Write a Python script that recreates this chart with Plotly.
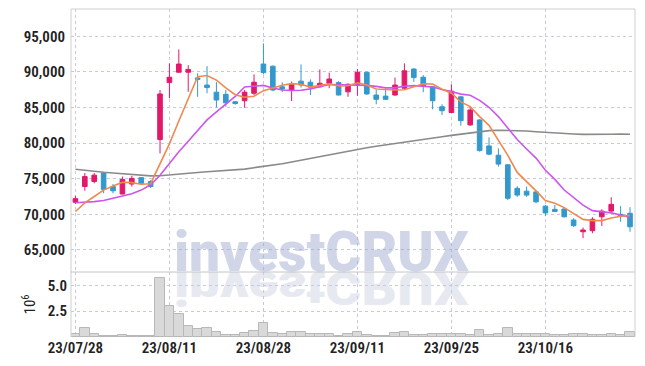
import base64
import plotly.graph_objects as go
from plotly.subplots import make_subplots

# ---------------- data ----------------
dates = [
    "2023-07-28", "2023-07-31", "2023-08-01", "2023-08-02", "2023-08-03", "2023-08-04",
    "2023-08-07", "2023-08-08", "2023-08-09", "2023-08-10", "2023-08-11",
    "2023-08-14", "2023-08-16", "2023-08-17", "2023-08-18",
    "2023-08-21", "2023-08-22", "2023-08-23", "2023-08-24", "2023-08-25",
    "2023-08-28", "2023-08-29", "2023-08-30", "2023-08-31", "2023-09-01",
    "2023-09-04", "2023-09-05", "2023-09-06", "2023-09-07", "2023-09-08",
    "2023-09-11", "2023-09-12", "2023-09-13", "2023-09-14", "2023-09-15",
    "2023-09-18", "2023-09-19", "2023-09-20", "2023-09-21", "2023-09-22",
    "2023-09-25", "2023-09-26", "2023-09-27",
    "2023-10-04", "2023-10-05", "2023-10-06",
    "2023-10-10", "2023-10-11", "2023-10-12", "2023-10-13",
    "2023-10-16", "2023-10-17", "2023-10-18", "2023-10-19", "2023-10-20",
    "2023-10-23", "2023-10-24", "2023-10-25", "2023-10-26", "2023-10-27",
]

open_ = [71700, 73900, 74600, 75800, 73900, 72850, 74250, 75150, 74600, 80500,
         88500, 89950, 89950, 89150, 88150, 87150, 86850, 85800, 85950, 87000,
         91100, 90800, 87900, 87450, 88700, 88550, 87900, 88400, 88500, 87200,
         88250, 89950, 86750, 86600, 86750, 87700, 90400, 89250, 87900, 85100,
         84300, 86500, 82550, 83250, 79600, 78300, 76950, 73650, 73250, 73150,
         71150, 70700, 70750, 69200, 67550, 67700, 69650, 70450, 70000, 70150]
high = [72600, 75800, 75800, 75800, 74250, 75300, 75400, 75200, 74800, 87450,
        91200, 93150, 90950, 89800, 90800, 88550, 87450, 85900, 87450, 89650,
        94000, 90900, 88550, 88650, 91050, 88950, 90350, 89900, 88700, 88400,
        90400, 90000, 87450, 87700, 89200, 91200, 90500, 89550, 88000, 85450,
        88250, 86550, 85050, 83350, 80800, 79250, 77050, 73950, 73900, 73400,
        71300, 71300, 70800, 69450, 68150, 69600, 70700, 72400, 71150, 71000]
low = [71450, 73300, 74350, 72950, 72950, 72800, 73900, 74200, 73700, 78550,
       86300, 89900, 87200, 86500, 87000, 85000, 85100, 85400, 84950, 86750,
       89650, 87300, 87150, 85900, 87800, 86750, 87850, 87700, 86700, 86500,
       86650, 86750, 85450, 86050, 86650, 87550, 88600, 87150, 84750, 83950,
       84250, 82450, 82450, 78800, 78300, 76700, 72000, 72450, 72450, 71550,
       69750, 70350, 69550, 68250, 66650, 67350, 68350, 70350, 68950, 67550]
close = [72200, 75300, 75500, 73500, 73300, 74900, 75050, 74350, 73900, 86900,
         89250, 91100, 90350, 88950, 87800, 86050, 85650, 85550, 87150, 88550,
         89900, 87450, 87600, 88250, 88150, 87850, 88400, 89000, 86750, 88250,
         89950, 86900, 86150, 86150, 88150, 90150, 89200, 88000, 85950, 84550,
         87300, 83150, 84650, 78950, 78450, 77050, 72250, 72700, 72700, 71750,
         70200, 70400, 69650, 68400, 67800, 69300, 70450, 71400, 69750, 68250]

volume_m = [0.25, 0.85, 0.25, 0.13, 0.06, 0.23, 0.13, 0.05, 0.05, 5.70,
            2.96, 2.20, 1.10, 0.78, 0.83, 0.52, 0.24, 0.24, 0.42, 0.62,
            1.32, 0.40, 0.30, 0.53, 0.45, 0.25, 0.25, 0.25, 0.12, 0.25,
            0.44, 0.20, 0.12, 0.12, 0.35, 0.44, 0.18, 0.16, 0.33, 0.28,
            0.33, 0.33, 0.16, 0.63, 0.16, 0.26, 0.84, 0.33, 0.33, 0.26,
            0.33, 0.16, 0.23, 0.33, 0.26, 0.16, 0.23, 0.33, 0.23, 0.50]

ma5 = [70400, 71600, 72500, 73400, 73960, 74500, 74450, 74220, 74300, 77020,
       79890, 83100, 86300, 89310, 89490, 88850, 87760, 86800, 86440, 86590,
       87360, 87720, 88130, 88350, 88270, 87860, 88050, 88330, 88030, 88050,
       88470, 88170, 87600, 87480, 87460, 87500, 87960, 88330, 88290, 87570,
       87000, 85790, 85120, 83720, 82500, 80450, 78270, 75880, 74630, 73290,
       71920, 71550, 70940, 70080, 69290, 69110, 69120, 69470, 69740, 69830]
ma10 = [71630, 71700, 71780, 71950, 72250, 72550, 72900, 73400, 74150, 75490,
        77195, 78775, 80260, 81805, 83255, 84370, 85430, 86550, 87875, 88040,
        88105, 87740, 87465, 87395, 87430, 87610, 87885, 88230, 88190, 88160,
        88165, 88110, 87965, 87755, 87755, 87985, 88065, 87965, 87885, 87515,
        87250, 86875, 86725, 86005, 85035, 83725, 82030, 80500, 79175, 77895,
        76185, 74910, 73410, 72355, 71290, 70515, 70335, 70205, 69910, 69560]
ma_long = [76320, 76150, 76050, 75900, 75800, 75700, 75580, 75480, 75400, 75420,
           75550, 75700, 75800, 75880, 75980, 76050, 76150, 76250, 76350, 76550,
           76720, 76900, 77100, 77350, 77600, 77900, 78150, 78400, 78700, 78950,
           79150, 79350, 79550, 79750, 79950, 80200, 80400, 80580, 80750, 80900,
           81080, 81250, 81450, 81650, 81750, 81800, 81800, 81750, 81700, 81600,
           81500, 81420, 81350, 81280, 81220, 81200, 81220, 81250, 81280, 81250]

tick_dates = ["2023-07-28", "2023-08-11", "2023-08-28", "2023-09-11", "2023-09-25", "2023-10-16"]
tick_labels = ["23/07/28", "23/08/11", "23/08/28", "23/09/11", "23/09/25", "23/10/16"]
price_ticks = [65000, 70000, 75000, 80000, 85000, 90000, 95000]
volume_ticks = [2.5, 5.0]
watermark = "investCRUX"

# ---------------- style ----------------
UP = "#E2196A"
DOWN = "#3399CC"
GRID = "#C5CADF"
FRAME = "#CFCFCF"
TXT = "#222222"
FONT = "Roboto Condensed, DejaVu Sans Condensed, sans-serif"
tick_font = dict(family=FONT, size=15, color=TXT, weight=600)
WM_FONT = "Roboto, Liberation Sans, sans-serif"

PLOT_H = 328.0
VOL_FRAC = 65.0 / PLOT_H

fig = make_subplots(rows=2, cols=1, shared_xaxes=True, vertical_spacing=0,
                    row_heights=[1 - VOL_FRAC, VOL_FRAC])

fig.add_trace(go.Candlestick(
    x=dates, open=open_, high=high, low=low, close=close,
    increasing=dict(line=dict(color=UP, width=1), fillcolor=UP),
    decreasing=dict(line=dict(color=DOWN, width=1), fillcolor=DOWN),
    whiskerwidth=0, showlegend=False, hoverinfo="skip"), row=1, col=1)

fig.add_trace(go.Scatter(x=dates, y=ma_long, mode="lines",
                         line=dict(color="#8A8A8A", width=1.6), showlegend=False), row=1, col=1)
fig.add_trace(go.Scatter(x=dates, y=ma10, mode="lines",
                         line=dict(color="#CC55EE", width=1.6), showlegend=False), row=1, col=1)
fig.add_trace(go.Scatter(x=dates, y=ma5, mode="lines",
                         line=dict(color="#F0894F", width=1.6), showlegend=False), row=1, col=1)

fig.add_trace(go.Bar(x=dates, y=volume_m,
                     marker=dict(color="#D9D9D9", line=dict(color="#B8B8B8", width=1)),
                     showlegend=False), row=2, col=1)

xcommon = dict(type="category", range=[-0.47, 59.53], tickmode="array",
               tickvals=tick_dates, showgrid=True, gridcolor=GRID, griddash="dot",
               gridwidth=1, zeroline=False, showline=False, ticks="", automargin=False)
fig.update_xaxes(**xcommon, showticklabels=False, rangeslider_visible=False, row=1, col=1)
fig.update_xaxes(**xcommon, showticklabels=True, ticktext=tick_labels,
                 tickfont=tick_font, row=2, col=1)

fig.update_yaxes(range=[61900, 98830], tickmode="array", tickvals=price_ticks,
                 tickformat=",d", showgrid=True, gridcolor=GRID, griddash="dot",
                 zeroline=False, showline=False, ticks="", ticklabelstandoff=5,
                 automargin=False, tickfont=tick_font, row=1, col=1)
fig.update_yaxes(range=[0, 6.29], tickmode="array", tickvals=volume_ticks,
                 tickformat=".1f", showgrid=True, gridcolor=GRID, griddash="dot",
                 zeroline=False, showline=False, ticks="", ticklabelstandoff=3,
                 automargin=False, tickfont=tick_font,
                 title=dict(text="10<sup>6</sup>",
                            font=dict(family=FONT, size=15, color=TXT),
                            standoff=8),
                 row=2, col=1)

# reflection of the watermark (mirrored vertically, slightly squashed)
svg = (
    "<svg xmlns='http://www.w3.org/2000/svg' width='564' height='65' viewBox='0 0 564 65' "
    "preserveAspectRatio='none'>"
    "<g transform='scale(1,-0.85)'>"
    "<text x='250.5' y='0' text-anchor='middle' font-family='" + WM_FONT + "' "
    "font-weight='900' font-size='55' fill='#E7E9F0'>" + watermark + "</text></g></svg>"
)
src = "data:image/svg+xml;base64," + base64.b64encode(svg.encode("utf-8")).decode("ascii")

# the page body adds an 8px offset, so the figure is 8px smaller and margins shifted
fig.update_layout(
    width=637, height=358,
    margin=dict(l=63, r=10, t=1, b=29, autoexpand=False),
    paper_bgcolor="white", plot_bgcolor="rgba(0,0,0,0)",
    bargap=0, boxgap=0.3, showlegend=False, hovermode=False,
    images=[dict(source=src, xref="paper", yref="paper", x=0, y=VOL_FRAC,
                 sizex=1, sizey=VOL_FRAC, xanchor="left", yanchor="top",
                 sizing="stretch", layer="below")],
    annotations=[dict(text=watermark, xref="paper", yref="paper",
                      x=250.5 / 564.0, y=VOL_FRAC, xanchor="center", yanchor="bottom",
                      yshift=-14, showarrow=False,
                      font=dict(family=WM_FONT, size=55,
                                weight=900, color="rgba(150,165,205,0.45)"))],
    shapes=[
        dict(type="line", xref="paper", yref="paper", x0=0, x1=0, y0=0, y1=1,
             line=dict(color=FRAME, width=1)),
        dict(type="line", xref="paper", yref="paper", x0=0, x1=1, y0=1, y1=1,
             line=dict(color=FRAME, width=1)),
        dict(type="line", xref="paper", yref="paper", x0=1, x1=1, y0=0, y1=1,
             line=dict(color=FRAME, width=1)),
        dict(type="line", xref="paper", yref="paper", x0=0, x1=1, y0=VOL_FRAC, y1=VOL_FRAC,
             line=dict(color="#C4C4C4", width=1)),
    ],
)

fig.write_html("out.html")
